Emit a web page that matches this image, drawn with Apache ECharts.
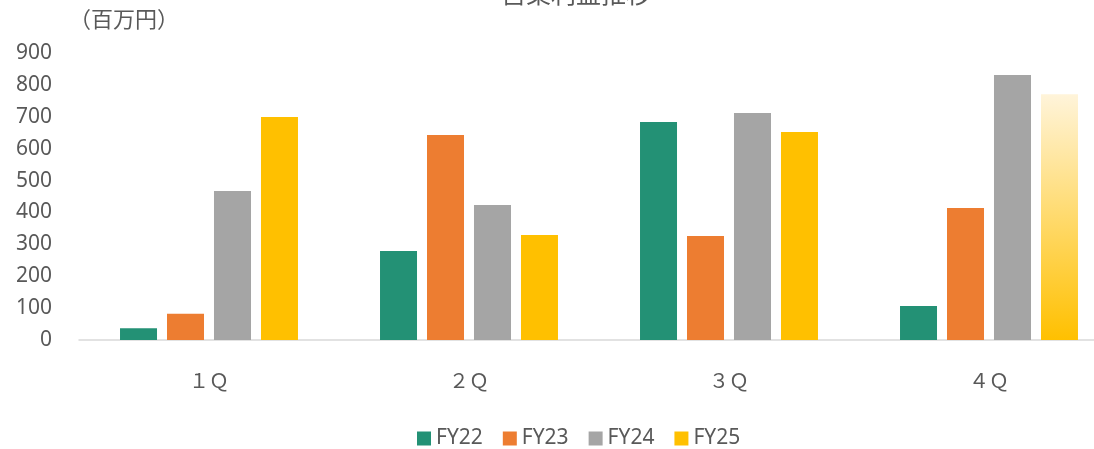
<!DOCTYPE html>
<html><head><meta charset="utf-8">
<script src="https://cdn.jsdelivr.net/npm/echarts@6/dist/echarts.min.js"></script>
<style>html,body{margin:0;padding:0;background:#fff;overflow:hidden}#c{width:1119px;height:449px}</style>
</head><body><div id="c"></div>
<script>
const categories = ['１Ｑ', '２Ｑ', '３Ｑ', '４Ｑ'];
const fy22 = [37, 279, 684, 107];
const fy23 = [82, 643, 326, 414];
const fy24 = [467, 423, 712, 831];
const fy25 = [699, 329, 652, 771];
const yTicks = [0, 100, 200, 300, 400, 500, 600, 700, 800, 900];
const seriesNames = ['FY22', 'FY23', 'FY24', 'FY25'];
const colors = ['#239175', '#ED7D31', '#A5A5A5', '#FFC000'];

const font = '"Noto Sans CJK JP", "Noto Sans", sans-serif';
const numFont = '"Noto Sans", "Noto Sans CJK JP", sans-serif';
const chart = echarts.init(document.getElementById('c'));
const fy25Data = fy25.map((v, i) => i === 3 ? {
  value: v,
  itemStyle: {
    color: new echarts.graphic.LinearGradient(0, 0, 0, 1, [
      {offset: 0, color: '#FFF4DA'},
      {offset: 1, color: '#FFC000'}
    ])
  }
} : v);
const all = [fy22, fy23, fy24, fy25Data];
chart.setOption({
  animation: false,
  title: {
    text: '営業利益推移', left: 571, textAlign: 'center', top: -24,
    textStyle: {fontFamily: font, fontSize: 25, fontWeight: 'normal', color: '#595959'}
  },
  graphic: [{
    type: 'text', left: 69, top: 8,
    style: {text: '（百万円）', fontFamily: font, fontSize: 22, fill: '#595959'}
  }],
  legend: {
    top: 428, left: 417, padding: 0, itemWidth: 14, itemHeight: 14, itemGap: 20,
    icon: 'rect',
    textStyle: {fontFamily: numFont, fontSize: 21, color: '#595959'},
    data: seriesNames.map((n, i) => ({name: n, itemStyle: {color: colors[i]}}))
  },
  grid: {left: 79, top: 53, right: 0, bottom: 109, containLabel: false},
  xAxis: {
    type: 'category', data: categories,
    axisLine: {lineStyle: {color: '#D9D9D9', width: 1.5}},
    axisTick: {show: false},
    axisLabel: {fontFamily: font, fontSize: 20, color: '#595959', margin: 30}
  },
  yAxis: {
    type: 'value', min: yTicks[0], max: yTicks[yTicks.length - 1], interval: 100,
    splitLine: {show: false}, axisLine: {show: false}, axisTick: {show: false},
    axisLabel: {fontFamily: numFont, fontSize: 21, color: '#595959', margin: 27}
  },
  series: seriesNames.map((n, i) => ({
    name: n, type: 'bar', data: all[i], barWidth: 37, barGap: '27%',
    itemStyle: {color: colors[i]}
  }))
});
</script></body></html>
